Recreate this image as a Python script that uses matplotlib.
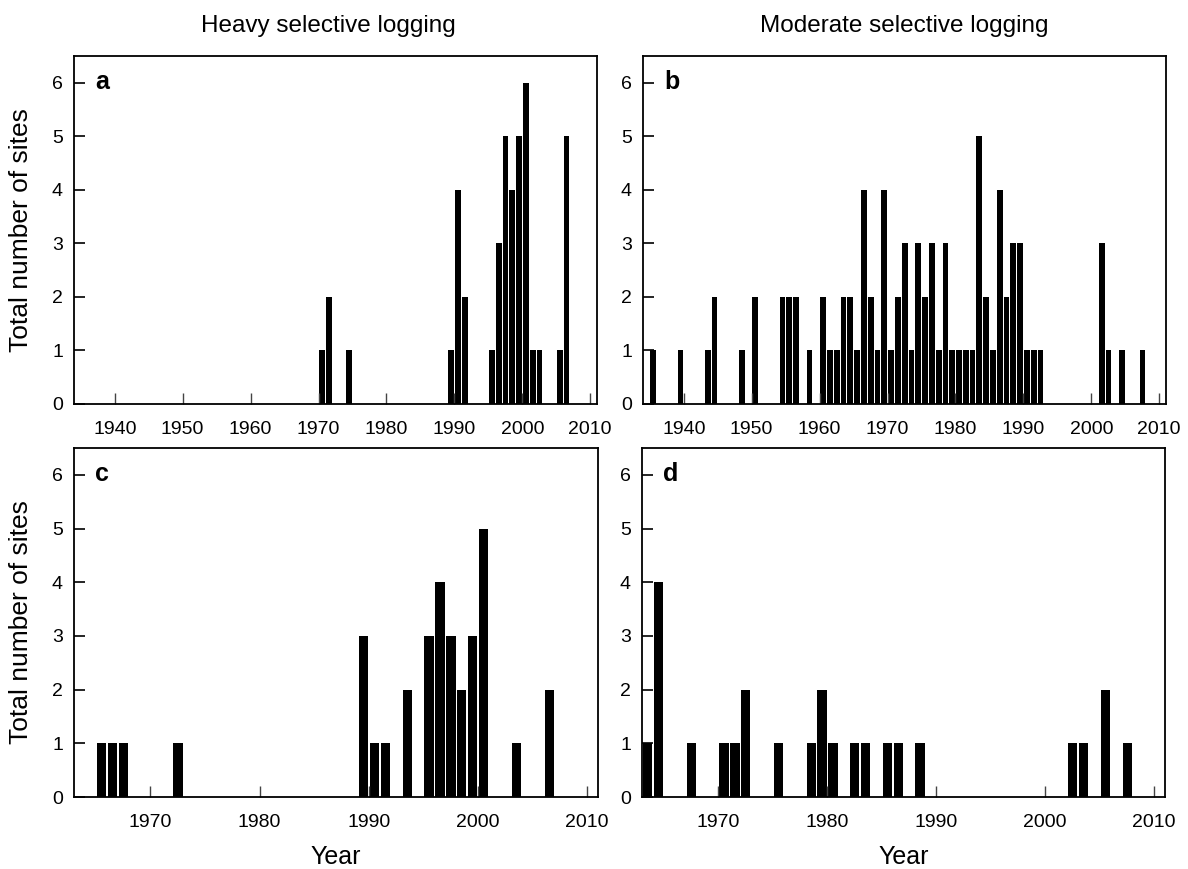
import matplotlib
matplotlib.use('Agg')
import matplotlib.pyplot as plt
import numpy as np

plt.rcParams['font.family'] = ['Liberation Sans', 'DejaVu Sans']

# Heavy selective logging, top (a) and bottom (c)
years_a = [1970, 1971, 1974, 1989, 1990, 1991, 1995, 1996, 1997, 1998, 1999,
           2000, 2001, 2002, 2005, 2006]
sites_a = [1, 2, 1, 1, 4, 2, 1, 3, 5, 4, 5, 6, 1, 1, 1, 5]

years_c = [1965, 1966, 1967, 1972, 1989, 1990, 1991, 1993, 1995, 1996, 1997,
           1998, 1999, 2000, 2003, 2006]
sites_c = [1, 1, 1, 1, 3, 1, 1, 2, 3, 4, 3, 2, 3, 5, 1, 2]

# Moderate selective logging, top (b) and bottom (d)
years_b = [1935, 1939, 1943, 1944, 1948, 1950, 1954, 1955, 1956, 1958, 1960,
           1961, 1962, 1963, 1964, 1965, 1966, 1967, 1968, 1969, 1970, 1971,
           1972, 1973, 1974, 1975, 1976, 1977, 1978, 1979, 1980, 1981, 1982,
           1983, 1984, 1985, 1986, 1987, 1988, 1989, 1990, 1991, 1992, 2001,
           2002, 2004, 2007]
sites_b = [1, 1, 1, 2, 1, 2, 2, 2, 2, 1, 2,
           1, 1, 2, 2, 1, 4, 2, 1, 4, 1, 2,
           3, 1, 3, 2, 3, 1, 3, 1, 1, 1, 1,
           5, 2, 1, 4, 2, 3, 3, 1, 1, 1, 3,
           1, 1, 1]

years_d = [1963, 1964, 1967, 1970, 1971, 1972, 1975, 1978, 1979, 1980, 1982,
           1983, 1985, 1986, 1988, 2002, 2003, 2005, 2007]
sites_d = [1, 4, 1, 1, 1, 2, 1, 1, 2, 1, 1, 1, 1, 1, 1, 1, 1, 2, 1]

titles = ['Heavy selective logging', 'Moderate selective logging']

fig = plt.figure(figsize=(11.88, 8.69), dpi=100)

W, H = 1188.0, 869.0
boxes = {
    'a': (74, 56, 597, 404),
    'b': (643, 56, 1166, 404),
    'c': (74, 448, 598, 797),
    'd': (642, 448, 1165, 797),
}
panels = [
    ('a', years_a, sites_a, (1934, 2011), np.arange(1940, 2011, 10)),
    ('b', years_b, sites_b, (1934, 2011), np.arange(1940, 2011, 10)),
    ('c', years_c, sites_c, (1963, 2011), np.arange(1970, 2011, 10)),
    ('d', years_d, sites_d, (1963, 2011), np.arange(1970, 2011, 10)),
]

for key, yrs, vals, xlim, xt in panels:
    l, t, r, b = boxes[key]
    ax = fig.add_axes([l / W, 1 - b / H, (r - l) / W, (b - t) / H])
    ax.bar(np.array(yrs) + 0.1, vals, width=0.85, align='edge',
           color='black', edgecolor='none', zorder=1)
    ax.set_xlim(*xlim)
    ax.set_ylim(0, 6.5)
    ax.set_xticks(xt)
    ax.set_yticks(range(0, 7))
    ax.tick_params(axis='x', direction='in', length=8, width=1,
                   color='#444444', labelsize=14, pad=12)
    ax.tick_params(axis='y', direction='in', length=8, width=1.2,
                   labelsize=14, pad=8)
    for s in ax.spines.values():
        s.set_linewidth(1.3)
        s.set_zorder(3)
    ax.text(0.04, 0.96, key, transform=ax.transAxes, fontsize=18,
            fontweight='bold', va='top', ha='left')
    if key in ('a', 'c'):
        ax.set_ylabel('Total number of sites', fontsize=19)
        ax.yaxis.set_label_coords(-0.079, 0.5)
    if key in ('c', 'd'):
        ax.set_xlabel('Year', fontsize=18)
        ax.xaxis.set_label_coords(0.5, -0.138)
    if key == 'a':
        ax.set_title(titles[0], fontsize=17.5, pad=17, x=0.486)
    if key == 'b':
        ax.set_title(titles[1], fontsize=17.5, pad=17)

fig.savefig('out.png', dpi=100)
